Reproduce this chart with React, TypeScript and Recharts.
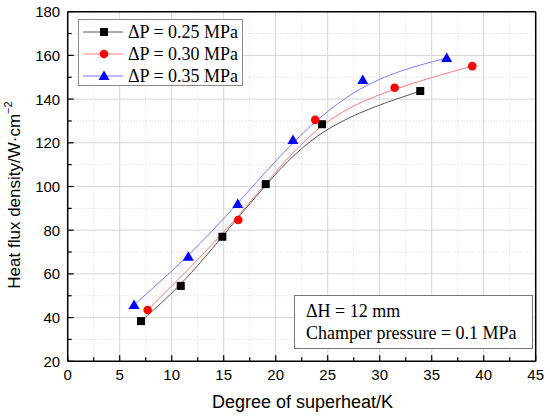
import React from "react";
import { LineChart, Line, XAxis, YAxis, ReferenceLine } from "recharts";

// degree of superheat (K) and heat flux density (W/cm2) for each pressure drop
const superheat025 = [7.05, 10.87, 14.87, 19.04, 24.45, 33.9];
const flux025 = [38.4, 54.5, 77.0, 101.1, 128.5, 143.7];

const superheat030 = [7.69, 16.4, 23.8, 31.44, 38.9];
const flux030 = [43.5, 84.7, 130.5, 145.2, 155.1];

const superheat035 = [6.38, 11.6, 16.35, 21.66, 28.37, 36.44];
const flux035 = [45.8, 67.9, 92.0, 121.3, 148.7, 158.8];

const seriesLabels = ["ΔP = 0.25 MPa", "ΔP = 0.30 MPa", "ΔP = 0.35 MPa"];

const xTicks = [0, 2.5, 5, 7.5, 10, 12.5, 15, 17.5, 20, 22.5, 25, 27.5, 30, 32.5, 35, 37.5, 40, 42.5, 45];
const yTicks = [20, 30, 40, 50, 60, 70, 80, 90, 100, 110, 120, 130, 140, 150, 160, 170, 180];

const toRows = (xs: number[], ys: number[]) => xs.map((x, i) => ({ x, y: ys[i] }));

const data025 = toRows(superheat025, flux025);
const data030 = toRows(superheat030, flux030);
const data035 = toRows(superheat035, flux035);

const sans = "'Liberation Sans', Arial, sans-serif";
const serif = "'Liberation Serif', 'Times New Roman', serif";
const gridColor = "#d6d6d6";

function Marker({ kind, cx, cy }: { kind: string; cx: number; cy: number }) {
  if (kind === "square") {
    return <rect x={cx - 4} y={cy - 4} width={8} height={8} fill="#000" />;
  }
  if (kind === "circle") {
    return <circle cx={cx} cy={cy} r={4.3} fill="#ff0000" />;
  }
  return (
    <polygon
      points={`${cx},${cy - 5.5} ${cx + 5.5},${cy + 4} ${cx - 5.5},${cy + 4}`}
      fill="#0000ff"
    />
  );
}

const dotOf = (kind: string) => (props: any) => (
  <Marker key={`${kind}-${props.index}`} kind={kind} cx={props.cx} cy={props.cy} />
);

function XTick(props: any) {
  const { x, y, payload } = props;
  const major = payload.value % 5 === 0;
  return (
    <g>
      <line x1={x} y1={y} x2={x} y2={y - (major ? 6 : 4)} stroke="#000" strokeWidth={1.2} />
      {major && (
        <text x={x} y={y + 19} textAnchor="middle" fontFamily={sans} fontSize={15} fill="#000">
          {payload.value}
        </text>
      )}
    </g>
  );
}

function YTick(props: any) {
  const { x, y, payload } = props;
  const major = payload.value % 20 === 0;
  return (
    <g>
      <line x1={x} y1={y} x2={x + (major ? 6 : 4)} y2={y} stroke="#000" strokeWidth={1.2} />
      {major && (
        <text x={x - 7.5} y={y + 5.5} textAnchor="end" fontFamily={sans} fontSize={15} fill="#000">
          {payload.value}
        </text>
      )}
    </g>
  );
}

const legendRows = [
  { kind: "square", line: "#555555" },
  { kind: "circle", line: "#ff7a7a" },
  { kind: "triangle", line: "#7a7aff" },
];

export default function App() {
  return (
    <div style={{ position: "absolute", left: 0, top: 0, width: 550, height: 418, background: "#fff" }}>
      <LineChart
        width={550}
        height={418}
        margin={{ top: 11.7, right: 14.3, bottom: 26.7, left: 7.7 }}
      >
        <XAxis
          dataKey="x"
          type="number"
          domain={[0, 45]}
          ticks={xTicks}
          interval={0}
          allowDuplicatedCategory={false}
          height={30}
          tickSize={0}
          tickMargin={0}
          tickLine={false}
          tick={<XTick />}
          axisLine={{ stroke: "#000", strokeWidth: 1.5 }}
        />
        <YAxis
          type="number"
          domain={[20, 180]}
          ticks={yTicks}
          interval={0}
          width={60}
          tickSize={0}
          tickMargin={0}
          tickLine={false}
          tick={<YTick />}
          axisLine={{ stroke: "#000", strokeWidth: 1.5 }}
        />
        {xTicks.slice(1, -1).map((v) => (
          <ReferenceLine
            key={`gx-${v}`}
            x={v}
            stroke={gridColor}
            strokeWidth={1}
            strokeDasharray={v % 5 === 0 ? undefined : "1 2"}
          />
        ))}
        {yTicks.slice(1, -1).map((v) => (
          <ReferenceLine
            key={`gy-${v}`}
            y={v}
            stroke={gridColor}
            strokeWidth={1}
            strokeDasharray={v % 20 === 0 ? undefined : "1 2"}
          />
        ))}
        <ReferenceLine x={45} stroke="#000" strokeWidth={1.5} />
        <ReferenceLine y={180} stroke="#000" strokeWidth={1.5} />
        <Line
          data={data025}
          dataKey="y"
          type="basis"
          stroke="#555555"
          strokeWidth={1}
          dot={dotOf("square")}
          isAnimationActive={false}
        />
        <Line
          data={data030}
          dataKey="y"
          type="basis"
          stroke="#ff7a7a"
          strokeWidth={1}
          dot={dotOf("circle")}
          isAnimationActive={false}
        />
        <Line
          data={data035}
          dataKey="y"
          type="basis"
          stroke="#7a7aff"
          strokeWidth={1}
          dot={dotOf("triangle")}
          isAnimationActive={false}
        />
      </LineChart>

      {/* legend, note box and axis titles */}
      <svg
        width={550}
        height={418}
        style={{ position: "absolute", left: 0, top: 0, pointerEvents: "none" }}
      >
        <rect x={78.5} y={19.5} width={164} height={66} fill="#fff" stroke="#8a8a8a" strokeWidth={1} />
        {legendRows.map((row, i) => {
          const cy = 32 + i * 22;
          return (
            <g key={row.kind}>
              <line x1={83} y1={cy} x2={123} y2={cy} stroke={row.line} strokeWidth={1} />
              <Marker kind={row.kind} cx={104} cy={cy} />
              <text x={128} y={cy + 6} fontFamily={serif} fontSize={18} fill="#000">
                {seriesLabels[i]}
              </text>
            </g>
          );
        })}

        <rect x={294.5} y={295.5} width={238} height={53} fill="#fff" stroke="#777" strokeWidth={1} />
        <text x={306} y={317} fontFamily={serif} fontSize={18} fill="#000">
          ΔH = 12 mm
        </text>
        <text x={306} y={339} fontFamily={serif} fontSize={18} fill="#000">
          Champer pressure = 0.1 MPa
        </text>

        <text x={302.5} y={408} textAnchor="middle" fontFamily={sans} fontSize={18} fill="#000">
          Degree of superheat/K
        </text>
        <text
          transform="translate(20,195) rotate(-90)"
          textAnchor="middle"
          fontFamily={sans}
          fontSize={17}
          fill="#000"
        >
          Heat flux density/W·cm
          <tspan dy={-8} fontSize={11}>
            −2
          </tspan>
        </text>
      </svg>
    </div>
  );
}
